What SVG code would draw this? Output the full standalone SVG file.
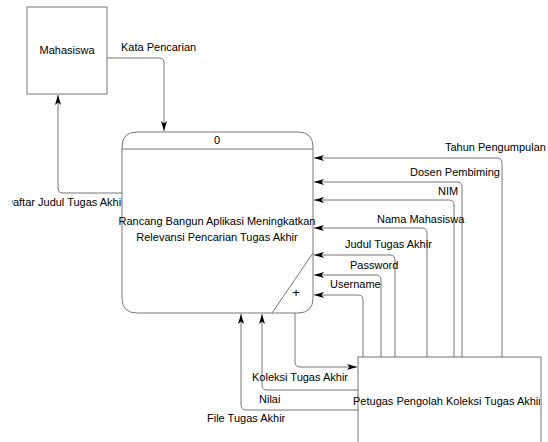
<svg xmlns="http://www.w3.org/2000/svg" width="548" height="442" viewBox="0 0 548 442">
<style>
text{font-family:"Liberation Sans",Arial,sans-serif;font-size:11px;fill:#000}
.box{fill:#fff;stroke:#777;stroke-width:1}
.c{fill:none;stroke:#777;stroke-width:1}
.m{text-anchor:middle}
</style>
<defs>
<marker id="ah" markerUnits="userSpaceOnUse" markerWidth="11" markerHeight="7" refX="10" refY="3" orient="auto">
<path d="M0,0 L10,3 L0,6 L2.5,3 z" fill="#000"/>
</marker>
<clipPath id="clipL"><rect x="12" y="180" width="120" height="40"/></clipPath>
<clipPath id="clipP"><rect x="340" y="380" width="200" height="40"/></clipPath>
</defs>
<g id="labels-behind">
<text x="5" y="206" clip-path="url(#clipL)">Daftar Judul Tugas Akhir</text>
</g>
<g id="connectors">
<path class="c" d="M107,58 H159 Q164,58 164,63 V131" marker-end="url(#ah)"/>
<path class="c" d="M122,193 H63 Q58,193 58,188 V95" marker-end="url(#ah)"/>
<path class="c" d="M502,357 V163 Q502,158 497,158 H314" marker-end="url(#ah)"/>
<path class="c" d="M462,357 V187 Q462,182 457,182 H314" marker-end="url(#ah)"/>
<path class="c" d="M454,357 V205 Q454,200 449,200 H314" marker-end="url(#ah)"/>
<path class="c" d="M427,357 V233 Q427,228 422,228 H314" marker-end="url(#ah)"/>
<path class="c" d="M395,357 V260 Q395,255 390,255 H314" marker-end="url(#ah)"/>
<path class="c" d="M381,357 V280 Q381,275 376,275 H314" marker-end="url(#ah)"/>
<path class="c" d="M363,357 V300 Q363,295 358,295 H314" marker-end="url(#ah)"/>
<path class="c" d="M295,313 V362 Q295,367 300,367 H357" marker-end="url(#ah)"/>
<path class="c" d="M358,390 H267 Q262,390 262,385 V314" marker-end="url(#ah)"/>
<path class="c" d="M358,410 H246 Q241,410 241,405 V314" marker-end="url(#ah)"/>
<text x="121" y="51">Kata Pencarian</text>
<text x="445" y="151">Tahun Pengumpulan</text>
<text x="410" y="176">Dosen Pembiming</text>
<text x="438" y="195">NIM</text>
<text x="377" y="223">Nama Mahasiswa</text>
<text x="345" y="248">Judul Tugas Akhir</text>
<text x="350" y="269">Password</text>
<text x="330" y="288">Username</text>
<text x="252" y="381">Koleksi Tugas Akhir</text>
<text x="259" y="403">Nilai</text>
<text x="207" y="422">File Tugas Akhir</text>
</g>
<g id="mahasiswa">
<rect class="box" x="27" y="7" width="80" height="87"/>
<text class="m" x="67" y="54">Mahasiswa</text>
</g>
<g id="process-0">
<path class="box" d="M137,132 H298 Q313,132 313,147 V298 Q313,313 298,313 H137 Q122,313 122,298 V147 Q122,132 137,132 Z"/>
<line class="c" x1="122" y1="149" x2="313" y2="149"/>
<line class="c" x1="313" y1="253" x2="272" y2="313"/>
<text class="m" x="217" y="144">0</text>
<text class="m" x="217" y="225">Rancang Bangun Aplikasi Meningkatkan</text>
<text class="m" x="217" y="241">Relevansi Pencarian Tugas Akhir</text>
<text class="m" x="296" y="297" style="font-size:13px">+</text>
</g>
<g id="petugas">
<rect class="box" x="358" y="357" width="183" height="100"/>
<text x="353" y="405" clip-path="url(#clipP)">Petugas Pengolah Koleksi Tugas Akhir</text>
</g>
</svg>
